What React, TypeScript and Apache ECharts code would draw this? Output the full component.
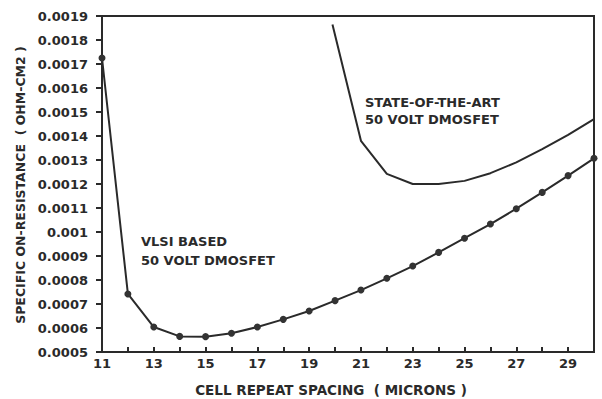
import React, { useEffect, useRef } from "react";
import * as echarts from "echarts";

const vlsiX = [11, 12, 13, 14, 15, 16, 17, 18, 19, 20, 21, 22, 23, 24, 25, 26, 27, 28, 29, 30];
const vlsiY = [
  0.001725, 0.000742, 0.000604, 0.000565, 0.000564, 0.000578, 0.000604, 0.000636, 0.000671, 0.000714,
  0.000758, 0.000807, 0.000858, 0.000915, 0.000974, 0.001033, 0.001097, 0.001165, 0.001235, 0.001307,
];
const stateX = [19.9, 21, 22, 23, 24, 25, 26, 27, 28, 29, 30];
const stateY = [0.001865, 0.00138, 0.001242, 0.0012, 0.0012, 0.001213, 0.001245, 0.00129, 0.001345, 0.001405, 0.00147];

const yTickLabels = [
  "0.0005", "0.0006", "0.0007", "0.0008", "0.0009", "0.001", "0.0011", "0.0012",
  "0.0013", "0.0014", "0.0015", "0.0016", "0.0017", "0.0018", "0.0019",
];
const xTickLabels = ["11", "13", "15", "17", "19", "21", "23", "25", "27", "29"];

const xTitle = "CELL REPEAT SPACING  ( MICRONS )";
const yTitle = "SPECIFIC ON-RESISTANCE  ( OHM-CM2 )";
const vlsiLabel = ["VLSI BASED", "50 VOLT DMOSFET"];
const stateLabel = ["STATE-OF-THE-ART", "50 VOLT DMOSFET"];

const INK = "#2a2a2a";
const FONT = "DejaVu Sans";

export default function App() {
  const ref = useRef<HTMLDivElement>(null);
  useEffect(() => {
    if (!ref.current) return;
    const chart = echarts.init(ref.current, null, { renderer: "svg" });
    const textStyle = { fontFamily: FONT, fontWeight: "bold", fontSize: 13, fill: INK };
    chart.setOption({
      animation: false,
      backgroundColor: "#ffffff",
      grid: {
        left: 102,
        right: 8,
        top: 16,
        bottom: 47,
        outerBoundsMode: "none",
        containLabel: false,
        show: true,
        borderColor: INK,
        borderWidth: 2,
        backgroundColor: "transparent",
      },
      xAxis: {
        type: "value",
        min: 11,
        max: 30,
        interval: 1,
        axisLine: { show: true, lineStyle: { color: INK, width: 2 } },
        axisTick: { show: true, inside: true, length: 5, lineStyle: { color: INK, width: 2 } },
        splitLine: { show: false },
        axisLabel: {
          color: INK,
          fontFamily: FONT,
          fontWeight: "bold",
          fontSize: 13,
          margin: 5,
          showMaxLabel: true,
          formatter: (v: number) => {
            const s = String(Math.round(v));
            return xTickLabels.includes(s) ? s : "";
          },
        },
      },
      yAxis: {
        type: "value",
        min: 0.0005,
        max: 0.0019,
        interval: 0.0001,
        axisLine: { show: true, lineStyle: { color: INK, width: 2 } },
        axisTick: { show: true, length: 6, lineStyle: { color: INK, width: 2 } },
        splitLine: { show: false },
        axisLabel: {
          color: INK,
          fontFamily: FONT,
          fontWeight: "bold",
          fontSize: 13,
          margin: 14,
          formatter: (v: number) => {
            const i = Math.round(v * 10000) - 5;
            return yTickLabels[i] ?? "";
          },
        },
      },
      series: [
        {
          type: "line",
          name: "VLSI",
          data: vlsiX.map((x, i) => [x, vlsiY[i]]),
          symbol: "circle",
          symbolSize: 7,
          itemStyle: { color: "#333" },
          lineStyle: { color: INK, width: 2 },
          clip: false,
        },
        {
          type: "line",
          name: "STATE",
          data: stateX.map((x, i) => [x, stateY[i]]),
          showSymbol: false,
          symbol: "none",
          lineStyle: { color: INK, width: 2 },
        },
      ],
      graphic: [
        {
          type: "text",
          x: 331,
          y: 390,
          style: { ...textStyle, fontSize: 13.5, text: xTitle, align: "center", verticalAlign: "middle" },
        },
        {
          type: "text",
          x: 20,
          y: 185,
          rotation: Math.PI / 2,
          style: { ...textStyle, fontSize: 12.5, text: yTitle, align: "center", verticalAlign: "middle" },
        },
        { type: "text", left: 141, top: 235, style: { ...textStyle, text: vlsiLabel[0] } },
        { type: "text", left: 141, top: 254, style: { ...textStyle, text: vlsiLabel[1] } },
        { type: "text", left: 365, top: 96, style: { ...textStyle, text: stateLabel[0] } },
        { type: "text", left: 365, top: 113, style: { ...textStyle, text: stateLabel[1] } },
      ],
    });
    return () => chart.dispose();
  }, []);
  return <div ref={ref} style={{ position: "fixed", left: 0, top: 0, width: 602, height: 399 }} />;
}
